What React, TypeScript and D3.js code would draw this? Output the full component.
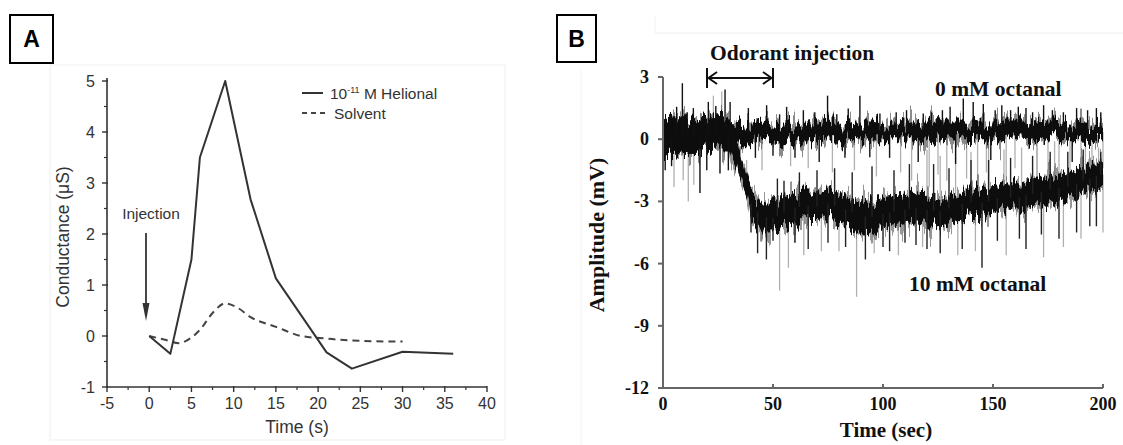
import React from 'react';
import * as d3 from 'd3';

// ---------- Panel A data ----------
const helionalTime = [0, 2.5, 5, 6, 9, 12, 15, 21, 24, 30, 36];
const helionalValue = [0, -0.35, 1.5, 3.5, 5.0, 2.68, 1.13, -0.32, -0.64, -0.31, -0.35];
const solventTime = [0, 2, 3.5, 5, 6, 7.5, 9, 10.5, 12, 15, 18, 21, 24, 30];
const solventValue = [0, -0.08, -0.14, -0.03, 0.12, 0.45, 0.64, 0.55, 0.37, 0.18, 0.0, -0.05, -0.09, -0.11];
const aXTicks = [-5, 0, 5, 10, 15, 20, 25, 30, 35, 40];
const aXMinor = [-2.5, 2.5, 7.5, 12.5, 17.5, 22.5, 27.5, 32.5, 37.5];
const aYTicks = [-1, 0, 1, 2, 3, 4, 5];
const aYMinor = [-0.5, 0.5, 1.5, 2.5, 3.5, 4.5];

// ---------- Panel B data ----------
const bKnots = [0, 5, 10, 15, 20, 25, 30, 35, 40, 45, 50, 55, 60, 65, 70, 75, 80, 85, 90, 95, 100,
  105, 110, 115, 120, 125, 130, 135, 140, 145, 150, 155, 160, 165, 170, 175, 180, 185, 190, 195, 200];
const ctrlUpper = [0.9, 1.0, 1.0, 0.9, 1.1, 1.1, 0.9, 0.8, 0.7, 0.8, 0.7, 0.8, 0.7, 0.8, 0.8, 0.9, 0.8, 0.7, 0.8, 0.8, 0.7,
  0.7, 0.8, 0.8, 0.9, 0.8, 0.8, 0.8, 0.7, 0.8, 0.8, 0.9, 0.9, 0.8, 1.0, 0.9, 0.8, 0.7, 0.8, 0.7, 0.7];
const ctrlLower = [-0.9, -0.8, -0.7, -0.7, -0.5, -0.5, -0.4, -0.2, -0.2, -0.1, -0.1, -0.2, -0.1, -0.1, -0.1, 0.0, -0.1, -0.1, 0.0, -0.1, -0.1,
  0.0, 0.0, -0.1, 0.0, -0.1, 0.0, 0.0, -0.1, 0.0, 0.0, 0.0, 0.1, 0.0, 0.0, 0.1, 0.0, 0.0, 0.0, -0.1, 0.0];
const octUpper = [0.9, 1.0, 1.0, 0.9, 1.1, 1.1, 0.8, -0.7, -2.4, -3.0, -3.1, -2.8, -2.6, -2.5, -2.6, -2.4, -2.6, -2.7, -2.9, -3.0, -2.9,
  -2.8, -2.7, -2.6, -2.7, -2.8, -2.7, -2.5, -2.3, -2.4, -2.3, -2.1, -2.2, -2.0, -1.9, -1.8, -1.7, -1.6, -1.4, -1.2, -1.1];
const octLower = [-0.9, -0.8, -0.7, -0.7, -0.5, -0.5, -0.5, -1.7, -3.8, -4.5, -4.5, -4.3, -4.0, -3.9, -3.9, -3.8, -4.0, -4.2, -4.5, -4.5, -4.3,
  -4.2, -4.1, -4.0, -4.1, -4.2, -4.0, -3.8, -3.7, -3.7, -3.6, -3.4, -3.5, -3.4, -3.3, -3.1, -3.0, -2.9, -2.7, -2.5, -2.3];

const ctrlSpikesDark = [[1, -1.5], [3.9, -1.3], [6.2, 1.56], [8.8, 2.7], [11, 1.3], [13.8, 1.5], [16.8, -2.6], [19.9, -1.5],
  [20.6, 1.8], [24, 1.6], [25.9, -1.66], [28.2, 2.4], [29.7, -1.5], [30.5, 1.8], [38.8, 1.5], [42, -0.9], [47.1, 1.64],
  [50, -0.8], [53, 1.2], [56.2, 1.56], [60, -0.9], [63.8, 1.4], [69, 1.3], [71, -1.1], [74.8, 2.1], [79, 1.2], [82.7, -0.9],
  [84.2, 1.48], [89.5, 2.1], [94, -0.87], [98.6, 1.24], [103, -0.9], [106, 1.3], [110.7, 1.4], [116, -1.1], [118.3, 1.24],
  [122, 1.3], [127, 1.4], [130.5, 1.56], [133, -1.2], [136.5, 1.96], [141, 1.8], [145.6, 1.7], [149, -1.0], [151, 1.4],
  [154, 1.64], [158, 1.4], [161.5, 1.56], [165, 1.5], [168, 1.3], [173, 1.64], [177, 1.4], [182, 1.3], [186, -1.1],
  [188, 1.5], [193, 1.4], [197, 1.5], [199, 1.3]];
const ctrlSpikesLight = [[5, -2.3], [9.2, -1.98], [11.5, -3.0], [14, -2.2], [22.9, 2.1], [26.7, 2.3], [33, -1.4], [45, -1.5],
  [58, -1.3], [66, -1.4], [77, -1.6], [87, -1.5], [97, -1.8], [108, -1.6], [113, -2.0], [121, -2.3], [125, -1.7], [129, -2.0],
  [138, -1.9], [143, -2.2], [147, -1.6], [156, -2.0], [160, -1.4], [170, -1.8], [175, -1.5], [180, -2.0], [190, -1.6],
  [195, -1.9], [200, -1.4]];
const octSpikesDark = [[40, -4.5], [43, -5.5], [47, -5.8], [50, -4.9], [52, -1.9], [55, -2.0], [60, -5.0], [62, -1.6], [66, -5.3],
  [70, -1.5], [75, -5.0], [78, -1.4], [83, -5.2], [86, -1.6], [92, -5.8], [95, -1.3], [100, -5.2], [103, -5.4], [105, -1.5],
  [110, -5.0], [112, -1.2], [115, -5.1], [120, -5.3], [123, -1.2], [126, -5.5], [130, -1.4], [136, -5.3], [140, -1.0],
  [145, -6.2], [148, -1.0], [152, -4.9], [158, -0.9], [162, -4.8], [165, -5.3], [168, -0.8], [172, -4.6], [176, -0.6],
  [180, -4.8], [184, -0.6], [188, -4.5], [191, -0.5], [194, -4.2], [197, -4.2], [199, -0.6]];
const octSpikesLight = [[38, -1.0], [45, -4.9], [53, -7.3], [57, -6.2], [64, -5.6], [72, -5.4], [80, -5.4], [88, -7.6], [96, -5.5],
  [107, -5.6], [118, -5.2], [120, -0.5], [126, -0.8], [133, -0.3], [134, -5.6], [140, -0.6], [142, -5.4], [148, -0.2],
  [155, -0.5], [156, -5.6], [163, -0.4], [170, -0.3], [173, -5.7], [178, -0.1], [182, -5.2], [185, 0.0], [190, -4.8],
  [192, -0.2], [198, -0.4], [200, -4.5]];
const bXTicks = [0, 50, 100, 150, 200];
const bYTicks = [3, 0, -3, -6, -9, -12];

const SANS = '"Liberation Sans", Arial, sans-serif';
const SERIF = '"Liberation Serif", "Times New Roman", serif';

export default function App() {
  // Panel A scales
  const xA = d3.scaleLinear().domain([-5, 40]).range([107, 487]);
  const yA = d3.scaleLinear().domain([-1, 5]).range([387, 81]);
  const lineA = d3.line<[number, number]>().x(d => xA(d[0])).y(d => yA(d[1]));
  const solvLine = d3.line<[number, number]>().x(d => xA(d[0])).y(d => yA(d[1])).curve(d3.curveMonotoneX);
  const helPts = helionalTime.map((t, i) => [t, helionalValue[i]] as [number, number]);
  const solPts = solventTime.map((t, i) => [t, solventValue[i]] as [number, number]);

  // Panel B scales
  const xB = d3.scaleLinear().domain([0, 200]).range([663, 1103]);
  const yB = d3.scaleLinear().domain([-12, 3]).range([388, 77]);
  const ctrlArea = d3.area<number>().x(t => xB(t)).y0((_, i) => yB(ctrlLower[i])).y1((_, i) => yB(ctrlUpper[i]));
  const octArea = d3.area<number>().x(t => xB(t)).y0((_, i) => yB(octLower[i])).y1((_, i) => yB(octUpper[i]));
  const ctrlMid = d3.scaleLinear().domain(bKnots).range(bKnots.map((_, i) => (ctrlUpper[i] + ctrlLower[i]) / 2));
  const octMid = d3.scaleLinear().domain(bKnots).range(bKnots.map((_, i) => (octUpper[i] + octLower[i]) / 2));

  const spikes = (arr: number[][], mid: d3.ScaleLinear<number, number>, color: string, w: number, key: string) =>
    arr.map((s, i) => (
      <line key={key + i} x1={xB(s[0])} x2={xB(s[0])} y1={yB(mid(s[0]))} y2={yB(s[1])} stroke={color} strokeWidth={w} />
    ));

  const axisA = '#333';
  const axisB = '#666';
  const plotW = xB(200) - xB(0);

  return (
    <svg width={1123} height={445} style={{ position: 'absolute', left: 0, top: 0, background: '#fff' }}>
      <defs>
        <filter id="jitterCore" x="-2%" y="-60%" width="104%" height="220%" filterUnits="objectBoundingBox">
          <feTurbulence type="fractalNoise" baseFrequency="0.38 0.012" numOctaves={2} seed={4} result="t" />
          <feColorMatrix in="t" type="matrix" values="0 0 0 0 0.5  0 1 0 0 0  0 0 0 0 0  0 0 0 0 1" result="m" />
          <feDisplacementMap in="SourceGraphic" in2="m" scale={30} xChannelSelector="R" yChannelSelector="G" />
        </filter>
        <filter id="jitterHalo" x="-2%" y="-80%" width="104%" height="260%" filterUnits="objectBoundingBox">
          <feTurbulence type="fractalNoise" baseFrequency="0.3 0.01" numOctaves={3} seed={11} result="t" />
          <feColorMatrix in="t" type="matrix" values="0 0 0 0 0.5  0 1 0 0 0  0 0 0 0 0  0 0 0 0 1" result="m" />
          <feDisplacementMap in="SourceGraphic" in2="m" scale={56} xChannelSelector="R" yChannelSelector="G" />
        </filter>
        <clipPath id="plotB">
          <rect x={xB(0)} y={60} width={plotW + 1} height={330} />
        </clipPath>
      </defs>

      {/* faint figure frames */}
      <rect x={50} y={65} width={455} height={375} fill="none" stroke="#efefef" strokeWidth={1} />
      <line x1={655} y1={33} x2={1123} y2={33} stroke="#eeeeee" strokeWidth={1} />
      <line x1={655} y1={15} x2={655} y2={33} stroke="#f2f2f2" strokeWidth={1} />
      <line x1={581} y1={70} x2={581} y2={445} stroke="#f2f2f2" strokeWidth={1} />

      {/* ===== Panel A ===== */}
      <rect x={10} y={15} width={43} height={48} fill="#fff" stroke="#000" strokeWidth={2} />
      <text x={31.5} y={47} textAnchor="middle" fontFamily={SANS} fontWeight="bold" fontSize={23}>A</text>

      <line x1={xA(-5)} y1={yA(-1)} x2={xA(40)} y2={yA(-1)} stroke={axisA} strokeWidth={1.6} />
      <line x1={xA(-5)} y1={yA(-1)} x2={xA(-5)} y2={yA(5) - 3} stroke={axisA} strokeWidth={1.6} />
      {aXTicks.map(t => (
        <g key={'ax' + t}>
          <line x1={xA(t)} x2={xA(t)} y1={yA(-1) - 1} y2={yA(-1) + 5} stroke={axisA} strokeWidth={1.4} />
          <text x={xA(t)} y={yA(-1) + 22} textAnchor="middle" fontFamily={SANS} fontSize={16} fill="#333">{t}</text>
        </g>
      ))}
      {aXMinor.map(t => (
        <line key={'axm' + t} x1={xA(t)} x2={xA(t)} y1={yA(-1)} y2={yA(-1) + 3} stroke={axisA} strokeWidth={1.2} />
      ))}
      {aYTicks.map(v => (
        <g key={'ay' + v}>
          <line x1={xA(-5) - 5} x2={xA(-5) + 1} y1={yA(v)} y2={yA(v)} stroke={axisA} strokeWidth={1.4} />
          <text x={95} y={yA(v) + 5.5} textAnchor="end" fontFamily={SANS} fontSize={16} fill="#333">{v}</text>
        </g>
      ))}
      {aYMinor.map(v => (
        <line key={'aym' + v} x1={xA(-5) - 3} x2={xA(-5)} y1={yA(v)} y2={yA(v)} stroke={axisA} strokeWidth={1.2} />
      ))}
      <text x={297} y={433} textAnchor="middle" fontFamily={SANS} fontSize={17.5} fill="#333">Time (s)</text>
      <text transform="translate(69,237) rotate(-90)" textAnchor="middle" fontFamily={SANS} fontSize={17.5} fill="#333">Conductance (μS)</text>

      <path d={solvLine(solPts) || ''} fill="none" stroke="#444" strokeWidth={2} strokeDasharray="7,5" />
      <path d={lineA(helPts) || ''} fill="none" stroke="#333" strokeWidth={2} strokeLinejoin="round" />

      <text x={151} y={219} textAnchor="middle" fontFamily={SANS} fontSize={15.5} fill="#333">Injection</text>
      <line x1={146} y1={233} x2={146} y2={306} stroke="#333" strokeWidth={1.8} />
      <polygon points="146,321 142.5,303 149.5,303" fill="#333" />

      <line x1={302} y1={93} x2={323} y2={93} stroke="#333" strokeWidth={2} />
      <text x={330} y={98.5} fontFamily={SANS} fontSize={15.5} fill="#333">
        <tspan>10</tspan><tspan dy={-6} fontSize={9}>-11</tspan><tspan dy={6}> M Helional</tspan>
      </text>
      <line x1={302} y1={113} x2={326} y2={113} stroke="#444" strokeWidth={2} strokeDasharray="5,4" />
      <text x={334} y={118.5} fontFamily={SANS} fontSize={15.5} fill="#333">Solvent</text>

      {/* ===== Panel B ===== */}
      <rect x={557} y={15} width={39} height={47} fill="#fff" stroke="#000" strokeWidth={2} />
      <text x={576.5} y={47} textAnchor="middle" fontFamily={SANS} fontWeight="bold" fontSize={23}>B</text>

      <g clipPath="url(#plotB)">
        {spikes(octSpikesLight, octMid, '#b0b0b0', 1.3, 'ol')}
        {spikes(ctrlSpikesLight, ctrlMid, '#b0b0b0', 1.3, 'cl')}
        <g filter="url(#jitterHalo)" opacity={0.7}>
          <path d={octArea(bKnots) || ''} fill="#6a6a6a" />
          <path d={ctrlArea(bKnots) || ''} fill="#5a5a5a" />
        </g>
        <g filter="url(#jitterCore)">
          <path d={octArea(bKnots) || ''} fill="#111" />
          <path d={ctrlArea(bKnots) || ''} fill="#0a0a0a" />
        </g>
        {spikes(octSpikesDark, octMid, '#222', 1.4, 'od')}
        {spikes(ctrlSpikesDark, ctrlMid, '#111', 1.4, 'cd')}
      </g>

      <line x1={xB(0)} y1={yB(-12)} x2={xB(200)} y2={yB(-12)} stroke={axisB} strokeWidth={2} />
      <line x1={xB(0)} y1={yB(-12)} x2={xB(0)} y2={yB(3)} stroke={axisB} strokeWidth={2} />
      {bXTicks.map(t => (
        <g key={'bx' + t}>
          <line x1={xB(t)} x2={xB(t)} y1={yB(-12) - 4} y2={yB(-12)} stroke={axisB} strokeWidth={2} />
          <text x={xB(t)} y={410} textAnchor="middle" fontFamily={SERIF} fontWeight="bold" fontSize={18} fill="#111">{t}</text>
        </g>
      ))}
      {bYTicks.map(v => (
        <g key={'by' + v}>
          <line x1={xB(0) - 5} x2={xB(0)} y1={yB(v)} y2={yB(v)} stroke={axisB} strokeWidth={2} />
          <text x={649} y={yB(v) + 6} textAnchor="end" fontFamily={SERIF} fontWeight="bold" fontSize={18} fill="#111">{v}</text>
        </g>
      ))}
      <text x={886} y={437} textAnchor="middle" fontFamily={SERIF} fontWeight="bold" fontSize={21} fill="#111">Time (sec)</text>
      <text transform="translate(596,235) rotate(-90)" textAnchor="middle" dominantBaseline="central" fontFamily={SERIF} fontWeight="bold" fontSize={22} fill="#111">Amplitude (mV)</text>

      <text x={710} y={60} fontFamily={SERIF} fontWeight="bold" fontSize={21.5} fill="#111">Odorant injection</text>
      <line x1={xB(20)} x2={xB(50)} y1={78} y2={78} stroke="#111" strokeWidth={2} />
      <line x1={xB(20)} x2={xB(20)} y1={68} y2={88} stroke="#111" strokeWidth={2} />
      <line x1={xB(50)} x2={xB(50)} y1={68} y2={88} stroke="#111" strokeWidth={2} />
      <polyline points={`${xB(20) + 10},${72} ${xB(20) + 1.5},${78} ${xB(20) + 10},${84}`} fill="none" stroke="#111" strokeWidth={2} />
      <polyline points={`${xB(50) - 10},${72} ${xB(50) - 1.5},${78} ${xB(50) - 10},${84}`} fill="none" stroke="#111" strokeWidth={2} />
      <text x={935} y={96} fontFamily={SERIF} fontWeight="bold" fontSize={21.5} fill="#111">0 mM octanal</text>
      <text x={909} y={291} fontFamily={SERIF} fontWeight="bold" fontSize={21.5} fill="#111">10 mM octanal</text>
    </svg>
  );
}
